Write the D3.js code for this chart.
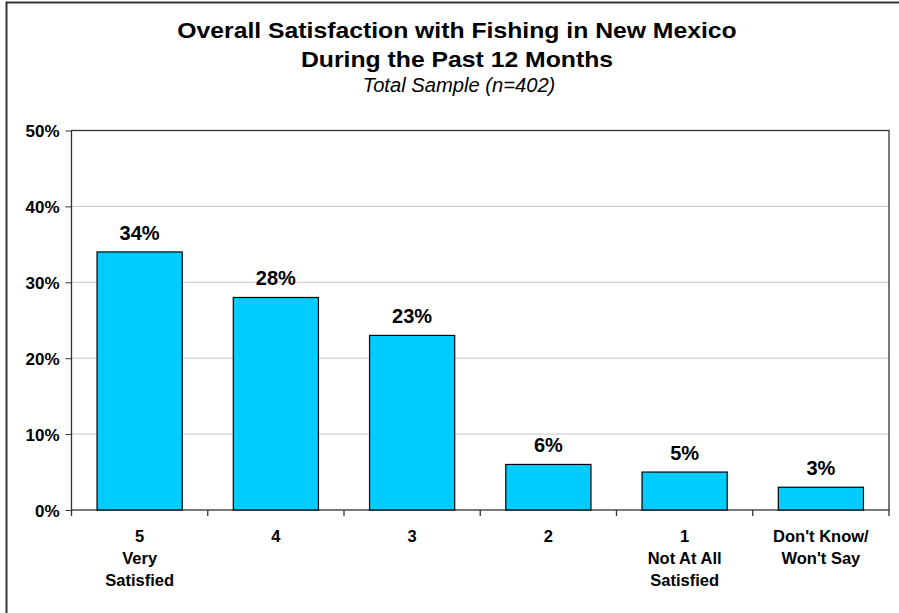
<!DOCTYPE html>
<html>
<head>
<meta charset="utf-8">
<script src="https://cdn.jsdelivr.net/npm/d3@7"></script>
<style>
  html, body { margin: 0; padding: 0; background: #fff; }
  svg { display: block; font-family: "Liberation Sans", Arial, sans-serif; }
</style>
</head>
<body>
<svg id="chart" width="899" height="613"></svg>
<script>
const categories = [["5", "Very", "Satisfied"], ["4"], ["3"], ["2"], ["1", "Not At All", "Satisfied"], ["Don't Know/", "Won't Say"]];
const values = [34, 28, 23, 6, 5, 3];
const yTicks = [0, 10, 20, 30, 40, 50];
const titleLines = ["Overall Satisfaction with Fishing in New Mexico", "During the Past 12 Months"];
const subtitle = "Total Sample (n=402)";

const svg = d3.select("#chart");
const W = 899, H = 613;
const plot = { left: 71.5, right: 889, top: 130.5, bottom: 510 };

// outer border
svg.append("rect").attr("x", 6.5).attr("y", 2.5).attr("width", W + 10).attr("height", H + 10)
  .attr("fill", "#fff").attr("stroke", "#333").attr("stroke-width", 2);

const x = d3.scaleBand().domain(d3.range(values.length)).range([plot.left, plot.right]).paddingInner(0.375).paddingOuter(0.1875);
const y = d3.scaleLinear().domain([0, 50]).range([plot.bottom, plot.top]);

// gridlines
svg.append("g").selectAll("line").data(yTicks.filter(d => d > 0 && d < 50)).join("line")
  .attr("x1", plot.left).attr("x2", plot.right)
  .attr("y1", d => y(d)).attr("y2", d => y(d))
  .attr("stroke", "#c8c8c8").attr("stroke-width", 1);

// plot frame
svg.append("rect").attr("x", plot.left).attr("y", plot.top)
  .attr("width", plot.right - plot.left).attr("height", plot.bottom - plot.top)
  .attr("fill", "none").attr("stroke", "#333").attr("stroke-width", 1.3);

// bars
svg.append("g").selectAll("rect").data(values).join("rect")
  .attr("x", (d, i) => x(i)).attr("width", x.bandwidth())
  .attr("y", d => y(d)).attr("height", d => y(0) - y(d))
  .attr("fill", "#00CCFF").attr("stroke", "#000").attr("stroke-width", 1.2);

// value labels
svg.append("g").selectAll("text").data(values).join("text")
  .attr("x", (d, i) => x(i) + x.bandwidth() / 2).attr("y", d => y(d) - 12)
  .attr("text-anchor", "middle").attr("font-weight", "bold").attr("font-size", 20)
  .text(d => d + "%");

// y axis
const yAxis = d3.axisLeft(y).tickValues(yTicks).tickFormat(d => d + "%").tickSize(6).tickPadding(6);
const gy = svg.append("g").attr("transform", `translate(${plot.left},0)`).call(yAxis);
gy.select(".domain").remove();
gy.selectAll("line").attr("stroke", "#333");
gy.selectAll("text").attr("font-size", 17).attr("font-weight", "bold").attr("fill", "#000")
  .attr("font-family", "Liberation Sans, Arial, sans-serif").attr("dy", "0.36em");

// x axis ticks at band boundaries
const boundaries = d3.range(values.length + 1).map(i => plot.left + i * (plot.right - plot.left) / values.length);
svg.append("g").selectAll("line").data(boundaries).join("line")
  .attr("x1", d => d).attr("x2", d => d).attr("y1", plot.bottom).attr("y2", plot.bottom + 6)
  .attr("stroke", "#333").attr("stroke-width", 1.3);

// x labels
const xl = svg.append("g").selectAll("text").data(categories).join("text")
  .attr("x", (d, i) => x(i) + x.bandwidth() / 2).attr("y", 542)
  .attr("text-anchor", "middle").attr("font-weight", "bold").attr("font-size", 16.5);
xl.each(function(lines, i) {
  const t = d3.select(this);
  const cx = x(i) + x.bandwidth() / 2;
  lines.forEach((ln, j) => t.append("tspan").attr("x", cx).attr("y", 542 + j * 22).text(ln));
});

// titles
svg.append("g").selectAll("text").data(titleLines).join("text")
  .attr("transform", (d, i) => `translate(457,${38 + i * 29}) scale(1.1,1)`)
  .attr("text-anchor", "middle").attr("font-weight", "bold").attr("font-size", 22.5)
  .text(d => d);
svg.append("text").attr("transform", "translate(459,92) scale(1.035,1)").attr("text-anchor", "middle")
  .attr("font-style", "italic").attr("font-size", 19.5).text(subtitle);
</script>
</body>
</html>
